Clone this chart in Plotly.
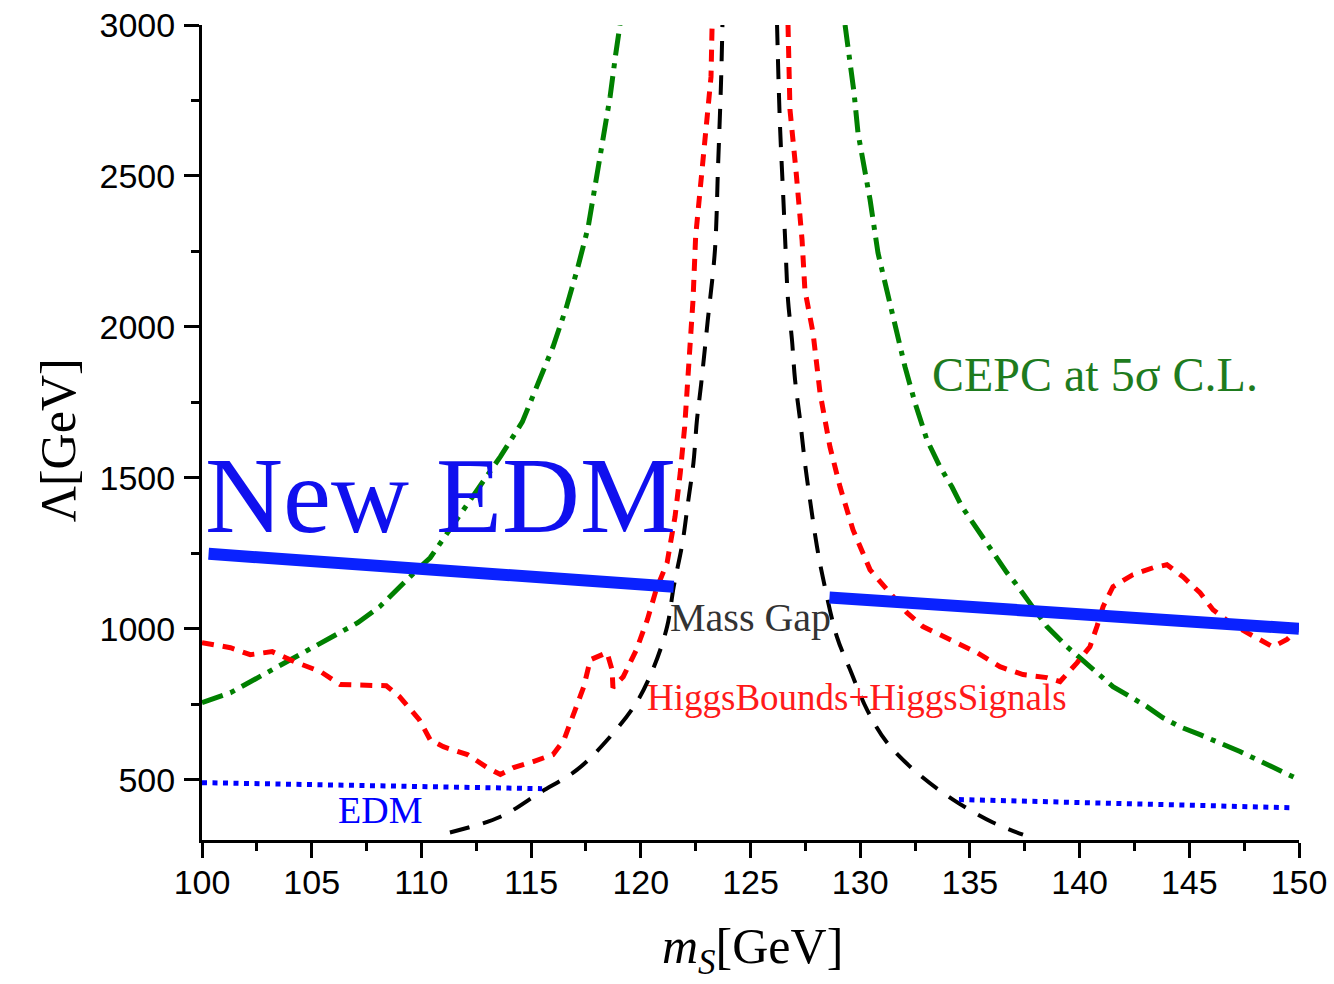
import plotly.graph_objects as go

# ---------------- data ----------------
# Mass gap boundary (black dashed)
black_left_x = [111.3, 113.6, 115.4, 117.1, 118.6, 119.8, 120.6, 121.2, 121.5, 121.9, 122.15, 122.4, 122.56, 122.75, 123.05, 123.38, 123.52, 123.66, 123.72]
black_left_y = [325, 377, 457, 533, 642, 755, 874, 1007, 1139, 1285, 1417, 1550, 1692, 1810, 2020, 2255, 2530, 2818, 3000]
black_right_x = [126.21, 126.34, 126.5, 126.6, 126.71, 126.89, 127.03, 127.26, 127.48, 127.71, 128.03, 128.3, 128.94, 129.54, 130.31, 131.22, 132.59, 134.23, 136.05, 137.42]
black_right_y = [3000, 2675, 2420, 2255, 2089, 1957, 1825, 1692, 1550, 1427, 1272, 1169, 973, 864, 732, 623, 523, 434, 358, 318]

# HiggsBounds + HiggsSignals (red dashed)
red_left_x = [100.0, 101.3, 102.2, 103.2, 104.2, 105.4, 106.3, 107.5, 108.4, 109.0, 109.9, 110.4, 111.0, 112.1,
              113.0, 113.6, 114.2, 115.1, 116.0, 116.5, 116.9, 117.4, 117.7, 118.46, 118.69, 118.73, 119.2, 119.8,
              120.3, 120.7, 121.2, 121.56, 121.8, 122.0, 122.15, 122.38, 122.5, 122.8, 123.0, 123.2, 123.25]
red_left_y = [954, 937, 914, 924, 891, 858, 815, 811, 811, 775, 699, 632, 609, 583,
              540, 517, 540, 560, 583, 632, 709, 808, 897, 921, 864, 805, 841, 930,
              1030, 1129, 1219, 1371, 1517, 1669, 1834, 2089, 2300, 2520, 2675, 2828, 3000]
red_right_x = [126.71, 126.8, 127.07, 127.35, 127.48, 127.85, 128.17, 128.62, 129.08, 129.67, 130.45, 131.36, 132.13,
               132.86, 134.09, 135.32, 136.37, 137.42, 138.51, 139.11, 139.88, 140.47, 140.79, 141.07, 141.52, 142.43,
               143.35, 143.98, 144.71, 145.49, 146.08, 146.86, 147.63, 148.81, 149.45, 149.91]
red_right_y = [3000, 2719, 2520, 2288, 2122, 1980, 1781, 1603, 1470, 1328, 1195, 1119, 1053,
               1007, 964, 921, 874, 848, 838, 825, 887, 940, 1007, 1073, 1139, 1179,
               1202, 1212, 1172, 1119, 1063, 1020, 987, 940, 964, 997]

# CEPC at 5 sigma (green dash-dot)
green_left_x = [100.0, 101.3, 102.8, 104.0, 105.4, 107.1, 108.1, 109.0, 109.9, 110.4, 111.6, 112.7, 113.6, 114.6,
                115.3, 116.0, 116.6, 117.1, 117.6, 118.0, 118.3, 118.6, 118.85, 119.05]
green_left_y = [755, 788, 848, 897, 954, 1020, 1073, 1139, 1202, 1235, 1361, 1470, 1570, 1685,
                1808, 1934, 2063, 2189, 2330, 2500, 2642, 2762, 2900, 3000]
green_right_x = [129.31, 129.49, 129.72, 129.9, 130.22, 130.45, 130.81, 131.22, 131.59, 132.04, 132.5, 133.04, 133.64,
                 134.18, 134.64, 135.1, 135.6, 136.05, 136.69, 137.06, 137.6, 138.51, 139.43, 140.11, 140.79, 141.52,
                 142.3, 143.07, 143.8, 144.58, 145.49, 146.4, 147.31, 148.09, 149.0, 149.73, 150.0]
green_right_y = [3000, 2907, 2775, 2642, 2513, 2421, 2245, 2123, 2000, 1868, 1748, 1626, 1536,
                 1470, 1404, 1355, 1300, 1252, 1185, 1152, 1096, 1007, 940, 897, 854, 808,
                 775, 742, 705, 675, 649, 623, 593, 566, 533, 510, 500]

# Old EDM bound (blue dotted)
edm_left_x = [100.0, 115.5]
edm_left_y = [490, 470]
edm_right_x = [134.5, 149.6]
edm_right_y = [434, 407]

# New EDM bound (thick blue)
new_left_x = [100.3, 121.5]
new_left_y = [1248, 1139]
new_right_x = [128.6, 150.0]
new_right_y = [1103, 1000]

x_range = [100, 150]
y_range = [300, 3000]

# ---------------- figure ----------------
fig = go.Figure()


def add(x, y, color, width, dash, shape="linear"):
    fig.add_trace(go.Scatter(x=x, y=y, mode="lines",
                             line=dict(color=color, width=width, dash=dash, shape=shape),
                             hoverinfo="skip", showlegend=False))


GREEN = "#008000"
RED = "#ff0000"
BLACK = "#000000"
BLUE = "#0000ff"
BLUE_THICK = "#0a22ff"

add(green_left_x, green_left_y, GREEN, 5, "22px,8px,5px,8px")
add(green_right_x, green_right_y, GREEN, 5, "22px,8px,5px,8px")
add(red_left_x, red_left_y, RED, 5, "12px,9px")
add(red_right_x, red_right_y, RED, 5, "12px,9px")
add(black_left_x, black_left_y, BLACK, 4, "20px,14px", "spline")
add(black_right_x, black_right_y, BLACK, 4, "20px,14px", "spline")
add(edm_left_x, edm_left_y, BLUE, 5, "5px,5.5px")
add(edm_right_x, edm_right_y, BLUE, 5, "5px,5.5px")
add(new_left_x, new_left_y, BLUE_THICK, 12, "solid")
add(new_right_x, new_right_y, BLUE_THICK, 12, "solid")

TICKFONT = dict(family="Liberation Sans, Arial, sans-serif", size=34, color="black")
SERIF = "Liberation Serif, Times New Roman, serif"

common = dict(showline=True, linewidth=3, linecolor="black", showgrid=False, zeroline=False,
              tickwidth=3, tickcolor="black", automargin=False)

fig.update_layout(
    width=1334, height=984,
    margin=dict(l=202, r=35, t=25, b=144, autoexpand=False),
    paper_bgcolor="white", plot_bgcolor="white",
    xaxis=dict(range=x_range, tick0=100, dtick=5, ticks="outside", ticklen=15,
               tickfont=TICKFONT, anchor="y", ticklabelstandoff=-5,
               minor=dict(dtick=2.5, tick0=100, ticks="outside", ticklen=8, tickwidth=3,
                          tickcolor="black", showgrid=False),
               **common),
    xaxis2=dict(range=x_range, tick0=100, dtick=5, ticks="inside", ticklen=16,
                overlaying="x", side="top", anchor="y", showticklabels=False,
                minor=dict(dtick=2.5, tick0=100, ticks="inside", ticklen=8, tickwidth=3,
                           tickcolor="black", showgrid=False),
                **common),
    yaxis=dict(range=y_range, tick0=0, dtick=500, ticks="outside", ticklen=15,
               tickfont=TICKFONT, anchor="x", ticklabelstandoff=2,
               minor=dict(dtick=250, tick0=0, ticks="outside", ticklen=8, tickwidth=3,
                          tickcolor="black", showgrid=False),
               **common),
    yaxis2=dict(range=y_range, tick0=0, dtick=500, ticks="inside", ticklen=16,
                overlaying="y", side="right", anchor="x", showticklabels=False,
                minor=dict(dtick=250, tick0=0, ticks="inside", ticklen=8, tickwidth=3,
                           tickcolor="black", showgrid=False),
                **common),
)

annotations = [
    dict(text="New EDM", x=110.89, y=1440, font=dict(family=SERIF, size=108, color="#1010ee")),
    dict(text="Mass Gap", x=124.98, y=1036, font=dict(family=SERIF, size=40, color="#333333")),
    dict(text="HiggsBounds+HiggsSignals", x=129.85, y=771, font=dict(family=SERIF, size=37, color="#ff1a1a")),
    dict(text="EDM", x=108.11, y=401, font=dict(family=SERIF, size=38, color="#0000ff")),
    dict(text="CEPC at 5σ C.L.", x=140.7, y=1841, font=dict(family=SERIF, size=48, color="#1e7b1e")),
]
for a in annotations:
    fig.add_annotation(xref="x", yref="y", showarrow=False, xanchor="center", yanchor="middle", **a)

# axis titles
fig.add_annotation(text="<i>m</i><sub><i>S</i></sub>[GeV]", xref="paper", yref="paper",
                   x=0.5014, y=-0.1767, showarrow=False, xanchor="center", yanchor="bottom",
                   font=dict(family=SERIF, size=50, color="black"))
fig.add_annotation(text="Λ[GeV]", xref="paper", yref="paper", textangle=-90,
                   x=-0.131, y=0.4908, showarrow=False, xanchor="center", yanchor="middle",
                   font=dict(family=SERIF, size=50, color="black"))

fig.write_html("out.html")
